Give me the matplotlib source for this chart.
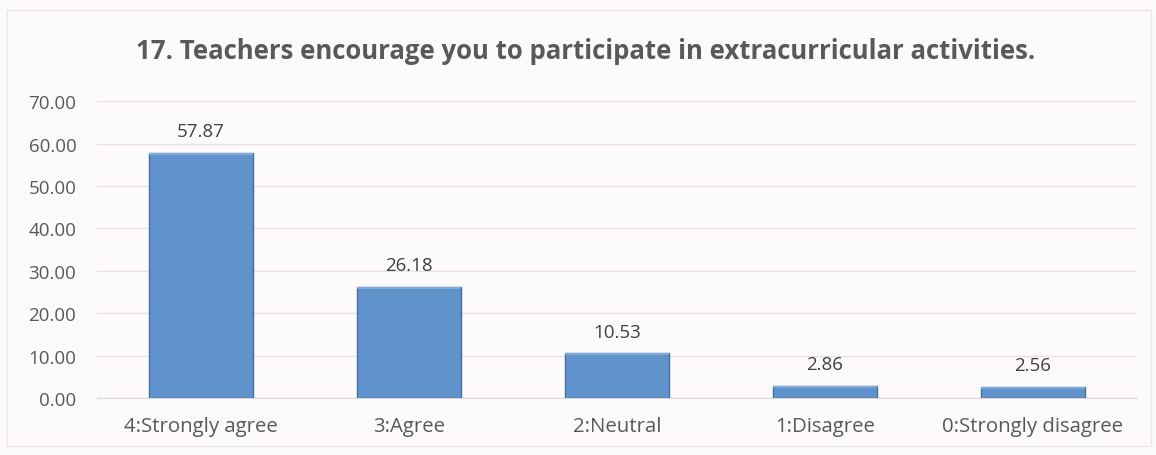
import matplotlib
matplotlib.use('Agg')
import matplotlib.pyplot as plt
from matplotlib.patches import Rectangle

plt.rcParams['font.family'] = ['Open Sans', 'DejaVu Sans']

categories = ['4:Strongly agree', '3:Agree', '2:Neutral', '1:Disagree', '0:Strongly disagree']
percent = [57.87, 26.18, 10.53, 2.86, 2.56]
yticks = [0, 10, 20, 30, 40, 50, 60, 70]

bg = '#fdfafc'
bar_face = '#6092cb'
bar_edge = '#41709f'
text_col = '#595959'

fig = plt.figure(figsize=(11.56, 4.56), dpi=100, facecolor=bg)
ax = fig.add_axes([0.084, 0.125, 0.8995, 0.651], facecolor=bg)

x = range(len(categories))
bars = ax.bar(x, percent, width=0.5, color=bar_face, edgecolor=bar_edge, linewidth=1.0, zorder=3)

# subtle bevel along the top edge of each bar
for b in bars:
    h = b.get_height()
    t = min(0.5, h * 0.2)
    ax.add_patch(Rectangle((b.get_x(), h - t), b.get_width(), t,
                           facecolor='#7fa8d8', edgecolor='none', zorder=4))

for xi, v in zip(x, percent):
    ax.text(xi, v + 3, f'{v:.2f}', ha='center', va='bottom', fontsize=13.5, color='#404040')

ax.set_ylim(0, 70)
ax.set_xlim(-0.5, len(categories) - 0.5)
ax.set_yticks(yticks)
ax.set_yticklabels([f'{t:.2f}' for t in yticks], fontsize=13.5, color=text_col)
ax.set_xticks(list(x))
ax.set_xticklabels(categories, fontsize=14.7, color=text_col)
ax.tick_params(axis='x', length=0, pad=13)
ax.tick_params(axis='y', length=0, pad=15)
ax.grid(axis='y', color='#ecdfe6', linewidth=1.0, zorder=0)
for s in ['top', 'right', 'left']:
    ax.spines[s].set_visible(False)
ax.spines['bottom'].set_color('#e0d6dc')

fig.text(0.5065, 0.886, '17. Teachers encourage you to participate in extracurricular activities.',
         ha='center', va='center', fontsize=18.5, fontweight='bold', color=text_col)

# faint chart border
fig.add_artist(Rectangle((0.006, 0.02), 0.99, 0.955, transform=fig.transFigure,
                         fill=False, edgecolor='#eee6ea', linewidth=1))

fig.savefig('out.png', dpi=100, facecolor=bg)
